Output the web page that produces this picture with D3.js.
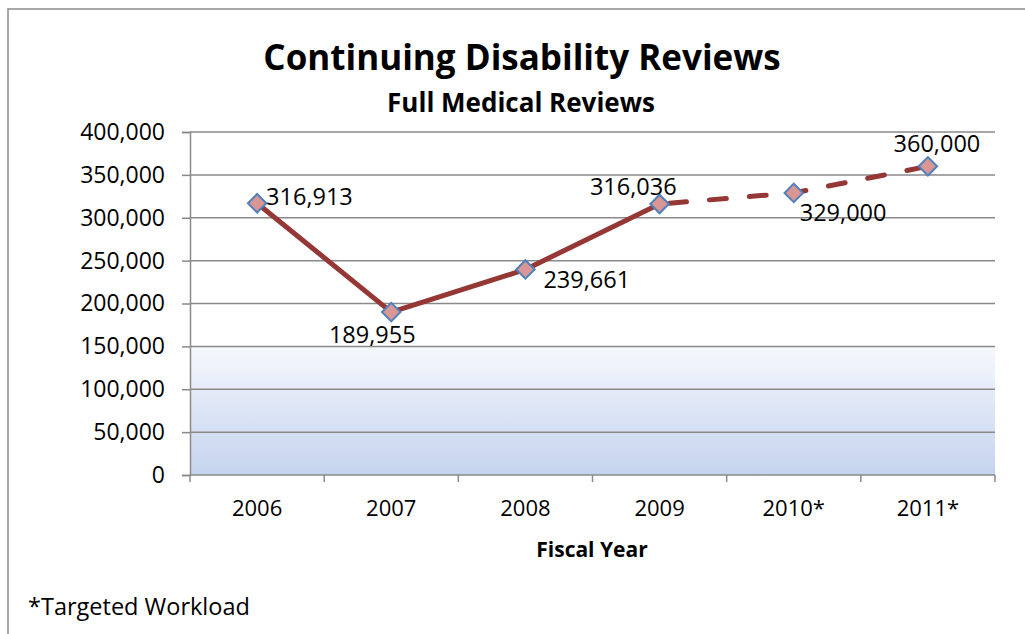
<!DOCTYPE html>
<html>
<head>
<meta charset="utf-8">
<script src="https://cdn.jsdelivr.net/npm/d3@7"></script>
<style>
  html, body { margin: 0; padding: 0; background: #fff; }
  svg { display: block; }
  text { font-family: "Open Sans", "Noto Sans", sans-serif; fill: #000; }
</style>
</head>
<body>
<svg id="chart" width="1025" height="634"></svg>
<script>
// ---- data ----
const categories = ["2006", "2007", "2008", "2009", "2010*", "2011*"];
const values = [316913, 189955, 239661, 316036, 329000, 360000];
const valueLabels = ["316,913", "189,955", "239,661", "316,036", "329,000", "360,000"];
const actualCount = 4;            // first 4 years are actual, rest targeted (dashed)
const yTicks = [0, 50000, 100000, 150000, 200000, 250000, 300000, 350000, 400000];
const bandTop = 150000;           // gradient band upper value
const titleText = "Continuing Disability Reviews";
const subtitleText = "Full Medical Reviews";
const xTitleText = "Fiscal Year";
const footnoteText = "*Targeted Workload";

// ---- layout (not data) ----
const plot = { left: 190, right: 995, top: 132, bottom: 475 };
const labelPlacement = [
  { dx: 9, dy: -6, anchor: "start" },
  { dx: -19, dy: 23, anchor: "middle" },
  { dx: 18, dy: 10, anchor: "start" },
  { dx: 17, dy: -17, anchor: "end" },
  { dx: 6, dy: 20, anchor: "start" },
  { dx: 9, dy: -23, anchor: "middle" }
];

const svg = d3.select("#chart");

// outer frame
svg.append("rect").attr("x", 8).attr("y", 9).attr("width", 1040).attr("height", 660)
  .attr("fill", "none").attr("stroke", "#8c8c8c").attr("stroke-width", 1.5);

const x = d3.scaleBand().domain(categories).range([plot.left, plot.right]);
const y = d3.scaleLinear().domain([0, 400000]).range([plot.bottom, plot.top]);

// gradient band
const defs = svg.append("defs");
const grad = defs.append("linearGradient").attr("id", "band").attr("x1", 0).attr("y1", 0).attr("x2", 0).attr("y2", 1);
grad.append("stop").attr("offset", "0%").attr("stop-color", "#f6f8fd");
grad.append("stop").attr("offset", "100%").attr("stop-color", "#c4d3ee");
svg.append("rect")
  .attr("x", plot.left).attr("y", y(bandTop))
  .attr("width", plot.right - plot.left).attr("height", y(0) - y(bandTop))
  .attr("fill", "url(#band)");

// gridlines
svg.append("g").selectAll("line").data(yTicks.filter(d => d > 0)).join("line")
  .attr("x1", plot.left).attr("x2", plot.right)
  .attr("y1", d => y(d)).attr("y2", d => y(d))
  .attr("stroke", "#8a8a8a").attr("stroke-width", 1.5);

// y axis
const yAxis = svg.append("g").attr("transform", `translate(${plot.left},0)`)
  .call(d3.axisLeft(y).tickValues(yTicks).tickFormat(d3.format(",")).tickSize(8).tickPadding(17));
yAxis.select(".domain").attr("stroke", "#8a8a8a").attr("stroke-width", 1.5);
yAxis.selectAll(".tick line").attr("stroke", "#8a8a8a").attr("stroke-width", 1.5);
yAxis.selectAll(".tick text").attr("font-size", 23).attr("font-family", "Open Sans").attr("fill", "#000");

// x axis with ticks at band boundaries
const xAxisG = svg.append("g").attr("transform", `translate(0,${plot.bottom})`);
xAxisG.append("line").attr("x1", plot.left).attr("x2", plot.right)
  .attr("stroke", "#8a8a8a").attr("stroke-width", 1.5);
const boundaries = categories.map(c => x(c)).concat([x(categories[categories.length - 1]) + x.bandwidth()]);
xAxisG.selectAll("line.tk").data(boundaries).join("line").attr("class", "tk")
  .attr("x1", d => d).attr("x2", d => d).attr("y1", 0).attr("y2", 7)
  .attr("stroke", "#8a8a8a").attr("stroke-width", 1.5);
xAxisG.selectAll("text").data(categories).join("text")
  .attr("x", d => x(d) + x.bandwidth() / 2).attr("y", 41)
  .attr("text-anchor", "middle").attr("font-size", 22).text(d => d);

// lines
const pts = categories.map((c, i) => ({ c, v: values[i], i }));
const line = d3.line().x(d => x(d.c) + x.bandwidth() / 2).y(d => y(d.v));
svg.append("path").datum(pts.slice(0, actualCount)).attr("d", line)
  .attr("fill", "none").attr("stroke", "#953735").attr("stroke-width", 5).attr("stroke-linejoin", "round");
svg.append("path").datum(pts.slice(actualCount - 1)).attr("d", line)
  .attr("fill", "none").attr("stroke", "#953735").attr("stroke-width", 5)
  .attr("stroke-dasharray", "17,23").attr("stroke-dashoffset", -10).attr("stroke-linecap", "round");

// markers
svg.append("g").selectAll("path").data(pts).join("path")
  .attr("d", d3.symbol(d3.symbolSquare, 170))
  .attr("transform", d => `translate(${x(d.c) + x.bandwidth() / 2},${y(d.v)}) rotate(45)`)
  .attr("fill", "#d99694").attr("stroke", "#4f81bd").attr("stroke-width", 2);

// data labels
svg.append("g").selectAll("text").data(pts).join("text")
  .attr("x", d => x(d.c) + x.bandwidth() / 2 + labelPlacement[d.i].dx)
  .attr("y", d => y(d.v) + labelPlacement[d.i].dy)
  .attr("dy", "0.35em")
  .attr("text-anchor", d => labelPlacement[d.i].anchor)
  .attr("font-size", 23.5).text(d => valueLabels[d.i]);

// titles
svg.append("text").attr("x", 522).attr("y", 70).attr("text-anchor", "middle")
  .attr("font-size", 35).attr("font-weight", "bold").text(titleText);
svg.append("text").attr("x", 521).attr("y", 112).attr("text-anchor", "middle")
  .attr("font-size", 26).attr("font-weight", "bold").text(subtitleText);
svg.append("text").attr("x", 592).attr("y", 557).attr("text-anchor", "middle")
  .attr("font-size", 21).attr("font-weight", "bold").text(xTitleText);
svg.append("text").attr("x", 28).attr("y", 615).attr("font-size", 23.5).text(footnoteText);
</script>
</body>
</html>
